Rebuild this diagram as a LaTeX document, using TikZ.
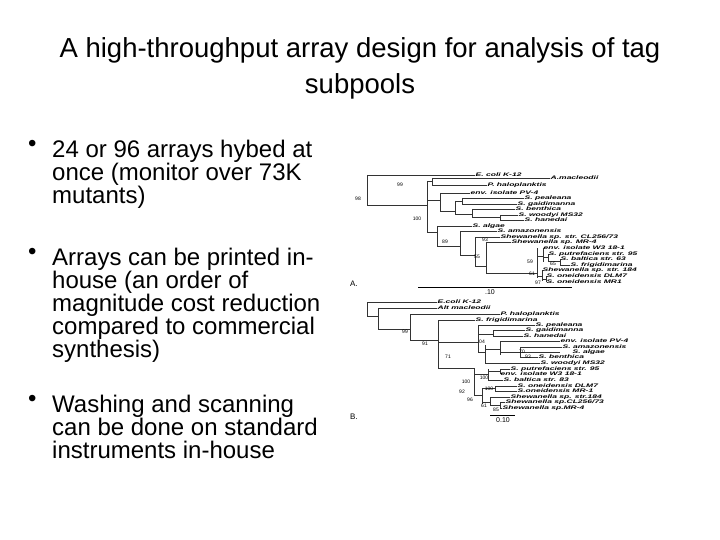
\documentclass[tikz,border=0pt]{standalone}
\usepackage{fontspec}
\setmainfont{Liberation Sans}
\begin{document}
\begin{tikzpicture}[x=1pt,y=-1pt,
 ttl/.style={font=\fontsize{27.5}{30}\selectfont,anchor=base},
 bul/.style={font=\fontsize{24}{23}\selectfont,anchor=north west,align=left,inner sep=0pt},
 lab/.style={anchor=west,inner sep=0.5pt},
 bs/.style={font=\fontsize{5}{5}\selectfont,inner sep=0pt},
 br/.style={line width=0.9pt,black!80}]
\useasboundingbox (0,0) rectangle (720,540);
\newcommand\lf[4]{\draw[br] (#1,#2)--(#3,#2); \node[lab] at (#3,#2) {\scalebox{1}[0.6]{\fontsize{8.5}{8}\selectfont\bfseries\itshape #4}};}
\newcommand\vl[3]{\draw[br] (#1,#2)--(#1,#3);}
\newcommand\hl[3]{\draw[br] (#2,#1)--(#3,#1);}
\node[ttl] (t1) at (360,58) {A high-throughput array design for analysis of tag};
\node[ttl] (t2) at (360,94) {subpools};
\node[bul] (b1) at (28,140) {•};
\node[bul] (b1t) at (52,140) {24 or 96 arrays hybed at\\once (monitor over 73K\\mutants)};
\node[bul] (b2) at (28,248) {•};
\node[bul] (b2t) at (52,248) {Arrays can be printed in-\\house (an order of\\magnitude cost reduction\\compared to commercial\\synthesis)};
\node[bul] (b3) at (28,395) {•};
\node[bul] (b3t) at (52,395) {Washing and scanning\\can be done on standard\\instruments in-house};
% ---- tree A
\vl{367}{175}{205}
\lf{367}{175}{475}{E. coli K-12}
\hl{205}{367}{427}
\vl{427}{181}{232}
\hl{181}{427}{432}\vl{432}{178}{185}
\lf{432}{178}{550}{A.macleodii}
\lf{432}{185}{487}{P. haloplanktis}
\hl{200}{427}{440}\vl{440}{193}{211}
\lf{440}{193}{470}{env. isolate PV-4}
\hl{211}{440}{455}\vl{455}{201}{214}
\hl{201}{455}{462}\vl{462}{198}{204}
\lf{462}{198}{524}{S. pealeana}
\lf{462}{204}{517}{S. gaidimanna}
\hl{214}{455}{472}\vl{472}{209}{217}
\lf{472}{209}{515}{S. benthica}
\hl{217}{472}{500}\vl{500}{215}{220}
\lf{500}{215}{518}{S. woodyi MS32}
\lf{500}{220}{524}{S. hanedai}
\hl{232}{427}{437}\vl{437}{226}{246}
\lf{437}{226}{472}{S. algae}
\hl{246}{437}{460}\vl{460}{231}{255}
\lf{460}{231}{497}{S. amazonensis}
\hl{255}{460}{475}\vl{475}{237}{266}
\lf{475}{237}{500}{Shewanella sp. str. CL256/73}
\hl{266}{475}{486}\vl{486}{242}{273}
\lf{486}{242}{511}{Shewanella sp. MR-4}
\hl{273}{486}{537}\vl{537}{248}{278}
\hl{256}{537}{543}\vl{543}{248}{262}
\lf{543}{248}{543}{env. isolate W3 18-1}
\hl{257}{543}{548}\vl{548}{254}{261}
\lf{548}{254}{548}{S. putrefaciens str. 95}
\hl{261}{548}{560}\vl{560}{259}{265}
\lf{560}{259}{560}{S. baltica str. 63}
\lf{560}{265}{570}{S. frigidimarina}
\hl{276}{537}{542}\vl{542}{270}{281}
\lf{542}{270}{542}{Shewanella sp. str. 184}
\hl{279}{542}{546}\vl{546}{276}{282}
\lf{546}{276}{546}{S. oneidensis DLM7}
\lf{546}{282}{546}{S. oneidensis MR1}
\node[bs] at (400,185) {99};
\node[bs] at (358,199) {98};
\node[bs] at (417,219) {100};
\node[bs] at (445,242) {89};
\node[bs] at (485,240) {93};
\node[bs] at (477,257) {55};
\node[bs] at (530,262) {59};
\node[bs] at (553,264) {65};
\node[bs] at (532,274) {61};
\node[bs] at (538,283) {97};
\draw[line width=0.8pt] (418,287)--(572,287);
\node[bs,font=\fontsize{7}{7}\selectfont] at (490,292) {.10};
\node[bs,font=\fontsize{8}{8}\selectfont] at (354,284) {A.};
% ---- tree B
\vl{367}{302}{316}
\lf{367}{302}{437}{E.coli K-12}
\hl{316}{367}{378}\vl{378}{308}{329}
\lf{378}{308}{437}{Alt macleodii}
\hl{329}{378}{410}\vl{410}{314}{340}
\lf{410}{314}{500}{P. haloplanktis}
\hl{340}{410}{438}\vl{438}{320}{368}
\lf{438}{320}{475}{S. frigidimarina}
\hl{342}{438}{478}\vl{478}{325}{352}
\lf{478}{325}{535}{S. pealeana}
\hl{334}{478}{493}\vl{493}{330}{336}
\lf{493}{330}{525}{S. gaidimanna}
\lf{493}{336}{523}{S. hanedai}
\hl{352}{478}{485}\vl{485}{345}{363}
\hl{349}{485}{500}\vl{500}{341}{355}
\lf{500}{341}{560}{env. isolate PV-4}
\hl{352}{500}{520}\vl{520}{347}{357}
\lf{520}{347}{562}{S. amazonensis}
\hl{352}{520}{560}
\node[lab] at (572,352) {\scalebox{1}[0.6]{\fontsize{8.5}{8}\selectfont\bfseries\itshape S. algae}};
\lf{520}{357}{538}{S. benthica}
\lf{485}{363}{540}{S. woodyi MS32}
\hl{368}{438}{474}
\vl{474}{368}{395}
\hl{374}{474}{488}\vl{488}{369}{380}
\hl{371}{488}{500}\vl{500}{369}{374}
\lf{500}{369}{510}{S. putrefaciens str. 95}
\lf{500}{374}{500}{env. isolate W3 18-1}
\lf{488}{380}{503}{S. baltica str. 83}
\hl{395}{474}{482}\vl{482}{388}{404}
\hl{388}{482}{495}\vl{495}{386}{391}
\lf{495}{386}{517}{S. oneidensis DLM7}
\lf{495}{391}{517}{S.oneidensis MR-1}
\hl{402}{482}{490}\vl{490}{397}{405}
\lf{490}{397}{510}{Shewanella sp. str.184}
\hl{405}{490}{500}\vl{500}{402}{408}
\lf{500}{402}{505}{Shewanella sp.CL256/73}
\lf{500}{408}{502}{Shewanella sp.MR-4}
\node[bs] at (405,332) {99};
\node[bs] at (425,344) {91};
\node[bs] at (448,357) {71};
\node[bs] at (482,342) {04};
\node[bs] at (522,352) {70};
\node[bs] at (528,357) {93};
\node[bs] at (466,382) {100};
\node[bs] at (484,378) {100};
\node[bs] at (462,392) {92};
\node[bs] at (489,389) {100};
\node[bs] at (470,400) {96};
\node[bs] at (484,406) {61};
\node[bs] at (496,410) {85};
\draw[line width=0.8pt] (490,415)--(515,415);
\node[bs,font=\fontsize{7}{7}\selectfont] at (503,420) {0.10};
\node[bs,font=\fontsize{8}{8}\selectfont] at (354,417) {B.};
\end{tikzpicture}
\end{document}
